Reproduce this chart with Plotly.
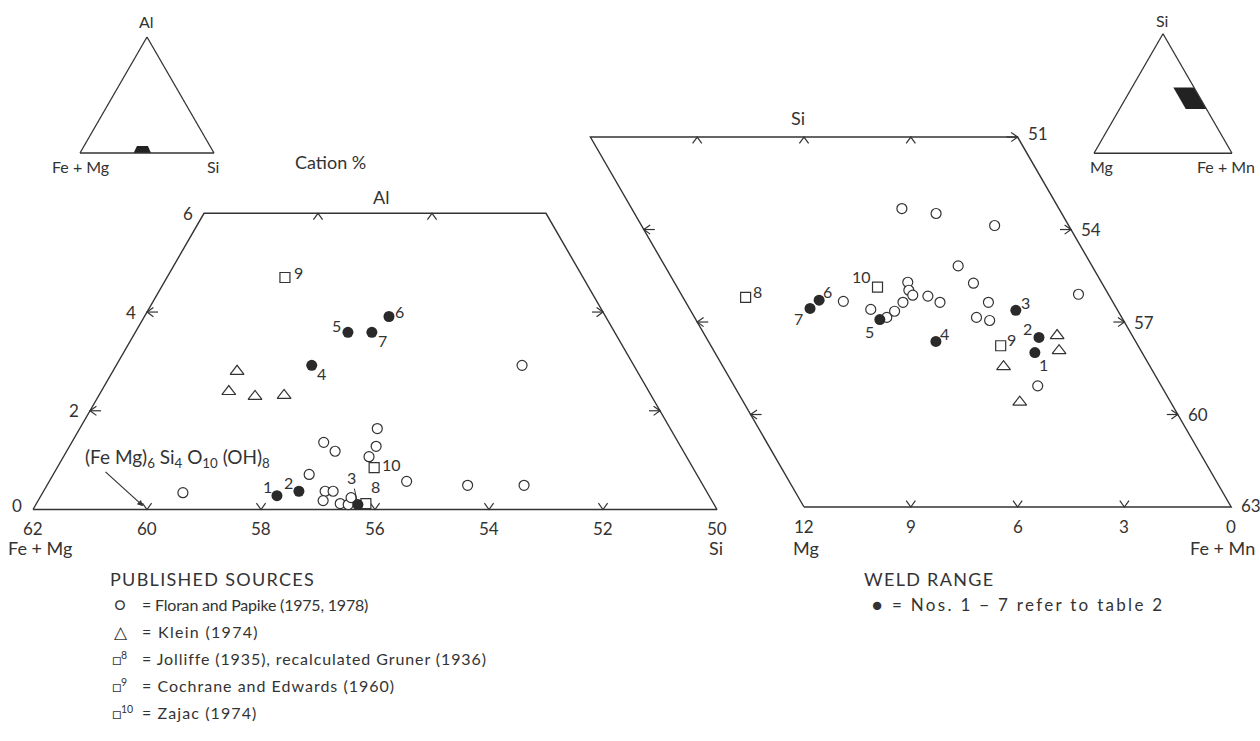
import math
import plotly.graph_objects as go

S3 = math.sqrt(3) / 2
W, H = 1260, 741
FONT = "Lato"
INK = "#333333"

# ---------------- DATA ----------------
# Left diagram: Al - Si - (Fe+Mg), cation %  (values: Fe+Mg, Al)
fp_left_femg = [59.20, 56.80, 56.22, 56.11, 55.14, 55.34, 55.57, 55.16, 56.69, 56.55,
                56.82, 56.55, 56.42, 56.30, 51.96, 54.13, 53.14]
fp_left_al = [0.34, 0.71, 1.36, 1.18, 1.64, 1.28, 1.07, 0.57, 0.37, 0.37,
              0.18, 0.12, 0.10, 0.24, 2.92, 0.49, 0.49]
klein_left_femg = [57.02, 57.37, 56.96, 56.44]
klein_left_al = [2.80, 2.39, 2.29, 2.31]
sq_ids = ["8", "9", "10"]
sq_left_femg = [56.10, 55.23, 55.59]
sq_left_al = [0.12, 4.70, 0.85]
weld_ids = ["1", "2", "3", "4", "5", "6", "7"]
weld_left_femg = [57.58, 57.15, 56.25, 55.65, 54.68, 53.80, 54.26]
weld_left_al = [0.28, 0.37, 0.10, 2.92, 3.59, 3.91, 3.59]

# Right diagram: Si - Mg - (Fe+Mn), cation %  (values: Mg, Si)
fp_right_mg = [7.56, 6.92, 6.60, 6.28, 5.90, 5.44, 5.54, 5.51, 5.10, 4.86,
               4.41, 3.53, 3.76, 3.61, 4.08, 3.50, 3.76, 2.08, 0.84, 3.47]
fp_right_si = [43.67, 43.41, 43.15, 43.35, 43.64, 44.29, 44.03, 43.87, 43.84, 43.64,
               46.68, 46.52, 44.82, 44.26, 43.15, 43.64, 43.05, 46.13, 43.90, 40.93]
klein_right_mg = [2.11, 2.30, 4.12, 4.24]
klein_right_si = [42.56, 42.07, 41.55, 40.40]
sq_right_mg = [10.24, 3.86, 6.37]
sq_right_si = [43.80, 42.23, 44.13]
weld_right_mg = [3.01, 2.65, 2.86, 5.61, 6.83, 8.22, 8.61]
weld_right_si = [42.01, 42.50, 43.38, 42.37, 43.08, 43.71, 43.44]

# Diagram frames (ternary windows)
left_femg_range = [62, 50]
left_al_range = [0, 6]
right_mg_range = [12, 0]
right_si_range = [37, 49]
left_bottom_ticks = [60, 58, 56, 54, 52]
left_top_ticks = [54, 52]
left_side_ticks = [2, 4]
right_mg_ticks = [9, 6, 3]
right_si_ticks = [46, 43, 40]

# Inset shaded regions (a, b, c)
inset_l_al = [0, 0, 6, 6]
inset_l_femg = [60, 47, 46.3, 54.5]
inset_l_si = [40, 53, 47.7, 39.5]
inset_r_si = [37, 37, 55, 55]
inset_r_mg = [15, 0, 0, 15]
inset_r_femn = [48, 63, 45, 30]


# ---------------- projections ----------------
def lp(femg, al):
    """Fe+Mg / Al -> cartesian units of left window (equilateral ternary)."""
    return 62 - femg - al / 2, al * S3


def rp(mg, si):
    d = si - 37
    return 12 - mg - d / 2, d * S3


def proj(fn, xs, ys):
    pts = [fn(a, b) for a, b in zip(xs, ys)]
    return [p[0] for p in pts], [p[1] for p in pts]


# pixel layout of the windows
L_SC, L_OX, L_OY = 57.0, 33.0, 509.5
R_SC, R_OX, R_OY = 35.6, 804.0, 507.0
L_DOM = [0.0, 0.62]
R_DOM = [0.40, 1.0]


def rng(dom, sc, ox):
    return [(dom[0] * W - ox) / sc, (dom[1] * W - ox) / sc]


fig = go.Figure()

LINE = dict(color=INK, width=1.4)


def chevrons(points, dirs, sc, shaft):
    xs, ys = [], []
    arm, half = 8.0 / sc, 4.6 / sc
    for (x, y), d in zip(points, dirs):
        dx, dy = d
        px, py = -dy, dx
        bx, by = x - dx * arm * 0.8, y - dy * arm * 0.8
        xs += [bx + px * half, x, bx - px * half, None]
        ys += [by + py * half, y, by - py * half, None]
        if shaft:
            xs += [x, x - dx * 11 / sc, None]
            ys += [y, y - dy * 11 / sc, None]
    return xs, ys


# ---- left frame ----
fr_f = [left_femg_range[0], left_femg_range[1], left_femg_range[1], left_femg_range[0] - left_al_range[1], left_femg_range[0]]
fr_a = [left_al_range[0], left_al_range[0], left_al_range[1], left_al_range[1], left_al_range[0]]
fx, fy = proj(lp, fr_f, fr_a)
fig.add_trace(go.Scatter(x=fx, y=fy, mode="lines", line=LINE, xaxis="x", yaxis="y", hoverinfo="skip"))

pts, dirs = [], []
for t in left_bottom_ticks:
    pts.append(lp(t, 0)); dirs.append((0, -1))
tk_v = chevrons(pts, dirs, L_SC, False)
pts, dirs = [], []
for t in left_top_ticks:
    pts.append(lp(t, 6)); dirs.append((0, 1))
tk_t = chevrons(pts, dirs, L_SC, False)
pts, dirs = [], []
for t in left_side_ticks:
    pts.append(lp(62 - t, t)); dirs.append((-1, 0))
tk_l = chevrons(pts, dirs, L_SC, True)
pts, dirs = [], []
for t in left_side_ticks:
    pts.append(lp(50, t)); dirs.append((1, 0))
tk_r = chevrons(pts, dirs, L_SC, True)
fig.add_trace(go.Scatter(x=tk_v[0] + tk_t[0] + tk_l[0] + tk_r[0], y=tk_v[1] + tk_t[1] + tk_l[1] + tk_r[1],
                         mode="lines", line=dict(color=INK, width=1.2), xaxis="x", yaxis="y", hoverinfo="skip"))

# ---- right frame ----
rf_m = [12, 0, 0, 12, 12]
rf_s = [37, 37, 49, 49, 37]
rx, ry = proj(rp, rf_m, rf_s)
fig.add_trace(go.Scatter(x=rx, y=ry, mode="lines", line=LINE, xaxis="x2", yaxis="y2", hoverinfo="skip"))
pts, dirs = [], []
for t in right_mg_ticks:
    pts.append(rp(t, 37)); dirs.append((0, -1))
rv = chevrons(pts, dirs, R_SC, False)
pts, dirs = [], []
for t in right_mg_ticks:
    pts.append(rp(t, 49)); dirs.append((0, 1))
rt = chevrons(pts, dirs, R_SC, False)
pts, dirs = [], []
for t in right_si_ticks:
    pts.append(rp(12, t)); dirs.append((-1, 0))
rl = chevrons(pts, dirs, R_SC, True)
pts, dirs = [], []
for t in right_si_ticks + [49]:
    pts.append(rp(0, t)); dirs.append((1, 0))
rr = chevrons(pts, dirs, R_SC, True)
fig.add_trace(go.Scatter(x=rv[0] + rt[0] + rl[0] + rr[0], y=rv[1] + rt[1] + rl[1] + rr[1],
                         mode="lines", line=dict(color=INK, width=1.2), xaxis="x2", yaxis="y2", hoverinfo="skip"))

# ---- markers ----
def add_pts(fn, a, b, symbol, size, ax, ay, filled=False):
    x, y = proj(fn, a, b)
    if filled:
        mk = dict(symbol=symbol, size=size, color="#2a2a2a", line=dict(width=0))
    else:
        mk = dict(symbol=symbol, size=size, color="white", line=dict(color=INK, width=1.2))
    fig.add_trace(go.Scatter(x=x, y=y, mode="markers", marker=mk, xaxis=ax, yaxis=ay, cliponaxis=False))


add_pts(lp, fp_left_femg, fp_left_al, "circle", 10, "x", "y")
add_pts(lp, klein_left_femg, klein_left_al, "triangle-up", 12, "x", "y")
add_pts(lp, sq_left_femg, sq_left_al, "square", 10, "x", "y")
add_pts(lp, weld_left_femg, weld_left_al, "circle", 11, "x", "y", True)
add_pts(rp, fp_right_mg, fp_right_si, "circle", 10, "x2", "y2")
add_pts(rp, klein_right_mg, klein_right_si, "triangle-up", 12, "x2", "y2")
add_pts(rp, sq_right_mg, sq_right_si, "square", 10, "x2", "y2")
add_pts(rp, weld_right_mg, weld_right_si, "circle", 11, "x2", "y2", True)

# ---- insets (ternary) ----
fig.add_trace(go.Scatterternary(a=inset_l_al, b=inset_l_femg, c=inset_l_si, mode="lines", fill="toself",
                                fillcolor="#222", line=dict(width=0, color="#222"), subplot="ternary"))
fig.add_trace(go.Scatterternary(a=inset_r_si, b=inset_r_mg, c=inset_r_femn, mode="lines", fill="toself",
                                fillcolor="#222", line=dict(width=0, color="#222"), subplot="ternary2"))

anns = []


def ann(text, x, y, xref, yref, xs=0, ys=0, size=15, xanchor="center", **kw):
    anns.append(dict(text=text, x=x, y=y, xref=xref, yref=yref, xshift=xs, yshift=ys, showarrow=False,
                     font=dict(family=FONT, size=size, color=INK), xanchor=xanchor, yanchor="middle", **kw))


def pann(text, px, py, size=15, xanchor="center"):
    ann(text, px / W, 1 - py / H, "paper", "paper", size=size, xanchor=xanchor)


def spaced(text, ls):
    return '<span style="letter-spacing:%.2fpx">%s</span>' % (ls, text)


# inset corner labels
pann("Al", 146, 22, size=16)
pann("Fe + Mg", 80, 166, size=16)
pann("Si", 213, 166, size=16)
pann("Si", 1162, 20, size=16)
pann("Mg", 1101, 166, size=16)
pann("Fe + Mn", 1226, 166, size=16)

# left axis labels
for t in [62] + left_bottom_ticks + [50]:
    x, y = lp(t, 0)
    ann(str(t), x, y, "x", "y", 0, -19, size=17)
for t in [0] + left_side_ticks + [6]:
    x, y = lp(62 - t, t)
    ann(str(t), x, y, "x", "y", -16, 4 if t == 0 else 0, size=17)
pann("Fe + Mg", 40, 548, size=18)
pann("Si", 716, 548, size=18)
pann("Al", 381, 197, size=18)
pann("Cation %", 330, 162, size=18)

# right axis labels
for t in [12] + right_mg_ticks + [0]:
    x, y = rp(t, 37)
    ann(str(t), x, y, "x2", "y2", 0, -19, size=17)
for t in [49] + right_si_ticks + [37]:
    x, y = rp(0, t)
    ann(str(100 - t), x, y, "x2", "y2", 20, 4 if t == 49 else (2 if t == 37 else 0), size=17)
pann("Mg", 806, 548, size=18)
pann("Fe + Mn", 1222, 548, size=18)
pann("Si", 798, 118, size=18)

# point labels
weld_l_off = [(-9, 9), (-10, 9), None, (10, -8), (-11, 7), (11, 5), (11, -8)]
for i, lab in enumerate(weld_ids):
    x, y = lp(weld_left_femg[i], weld_left_al[i])
    if weld_l_off[i] is None:
        anns.append(dict(text=lab, x=x, y=y, xref="x", yref="y", showarrow=True, arrowhead=0, arrowwidth=1,
                         arrowcolor=INK, ax=-6, ay=-27, standoff=4, font=dict(family=FONT, size=16, color=INK)))
    else:
        ann(lab, x, y, "x", "y", weld_l_off[i][0], weld_l_off[i][1], size=16)
sq_l_off = [(10, 17), (14, 5), (17, 3)]
for i, lab in enumerate(sq_ids):
    x, y = lp(sq_left_femg[i], sq_left_al[i])
    ann(lab, x, y, "x", "y", sq_l_off[i][0], sq_l_off[i][1], size=16)

weld_r_off = [(9, -12), (-11, 9), (10, 8), (9, 8), (-10, -12), (8, 9), (-12, -10)]
for i, lab in enumerate(weld_ids):
    x, y = rp(weld_right_mg[i], weld_right_si[i])
    ann(lab, x, y, "x2", "y2", weld_r_off[i][0], weld_r_off[i][1], size=16)
sq_r_off = [(12, 6), (11, 6), (-16, 11)]
for i, lab in enumerate(sq_ids):
    x, y = rp(sq_right_mg[i], sq_right_si[i])
    ann(lab, x, y, "x2", "y2", sq_r_off[i][0], sq_r_off[i][1], size=16)

# chlorite composition pointer
x60, y60 = lp(60, 0)
anns.append(dict(text="", x=x60, y=y60, xref="x", yref="y", showarrow=True, arrowhead=2, arrowsize=1,
                 arrowwidth=1.2, arrowcolor=INK, ax=-43, ay=-39, standoff=5))
pann("(Fe Mg)<sub>6</sub> Si<sub>4</sub> O<sub>10</sub> (OH)<sub>8</sub>", 177, 458, size=19)

# legend texts
pann(spaced("PUBLISHED SOURCES", 1.3), 108, 579, size=18, xanchor="left")
leg_sym = ["○", "△", "□<sup>8</sup>", "□<sup>9</sup>", "□<sup>10</sup>"]
leg_sym_size = [18, 17, 15, 15, 15]
leg_txt = ["= Floran and Papike (1975, 1978)", "= Klein (1974)",
           "= Jolliffe (1935), recalculated Gruner (1936)", "= Cochrane and Edwards (1960)",
           "= Zajac (1974)"]
leg_ls = [-0.2, 1.3, 0.9, 1.0, 1.1]
for i, (s, t) in enumerate(zip(leg_sym, leg_txt)):
    yy = 604 + i * 27.2
    pann(s, 110 if i >= 2 else 112, yy, size=leg_sym_size[i], xanchor="left")
    pann(spaced(t, leg_ls[i]), 140, yy, size=16, xanchor="left")
pann(spaced("WELD RANGE", 1.3), 862, 579, size=18, xanchor="left")
pann("●", 870, 604, size=17, xanchor="left")
pann(spaced("= Nos. 1 − 7 refer to table 2", 2.3), 890, 604, size=17, xanchor="left")

tern_axis = dict(showticklabels=False, ticks="", showgrid=False, linecolor=INK, linewidth=1.3, showline=True,
                 title=dict(text=""))

fig.update_layout(
    width=W, height=H, margin=dict(l=0, r=0, t=0, b=0),
    paper_bgcolor="white", plot_bgcolor="rgba(0,0,0,0)", showlegend=False,
    xaxis=dict(domain=L_DOM, range=rng(L_DOM, L_SC, L_OX), visible=False, fixedrange=True),
    yaxis=dict(domain=[0, 1], range=[(L_OY - H) / L_SC, L_OY / L_SC], visible=False, fixedrange=True),
    xaxis2=dict(domain=R_DOM, range=rng(R_DOM, R_SC, R_OX), visible=False, fixedrange=True, anchor="y2"),
    yaxis2=dict(domain=[0, 1], range=[(R_OY - H) / R_SC, R_OY / R_SC], visible=False, fixedrange=True, anchor="x2"),
    ternary=dict(domain=dict(x=[80 / W, 214 / W], y=[1 - 154 / H, 1 - 36 / H]), sum=100,
                 bgcolor="rgba(0,0,0,0)", aaxis=tern_axis, baxis=tern_axis, caxis=tern_axis),
    ternary2=dict(domain=dict(x=[1094 / W, 1232 / W], y=[1 - 154 / H, 1 - 33 / H]), sum=100,
                  bgcolor="rgba(0,0,0,0)", aaxis=tern_axis, baxis=tern_axis, caxis=tern_axis),
    annotations=anns,
)

fig.write_html("out.html", config=dict(displayModeBar=False),
               post_script="document.body.style.margin='0';document.body.style.overflow='hidden';")
